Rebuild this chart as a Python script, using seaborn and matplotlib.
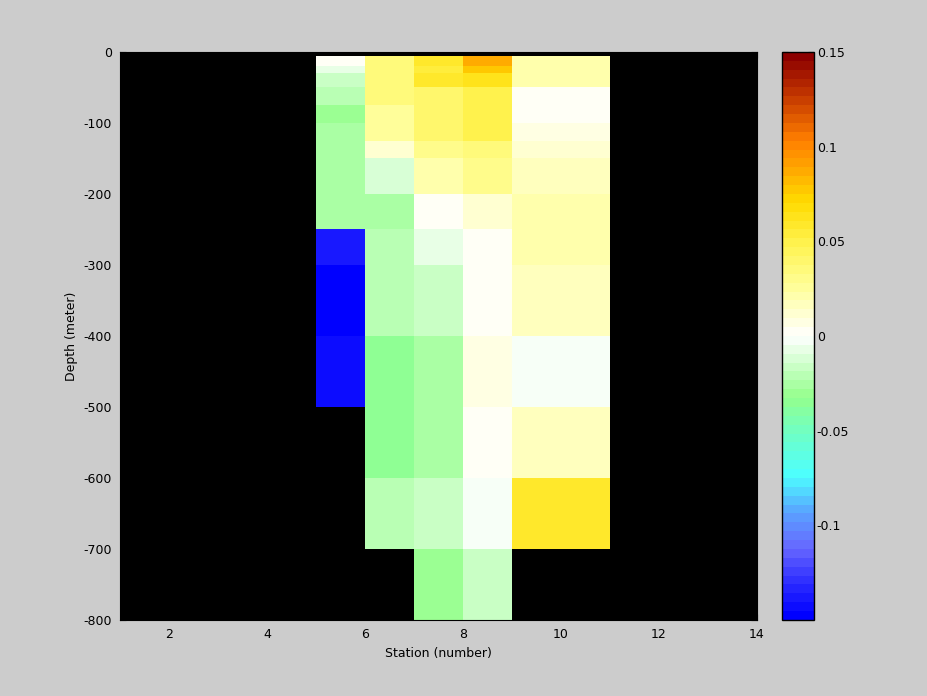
import numpy as np
import pandas as pd
import matplotlib
matplotlib.use("Agg")
import matplotlib.pyplot as plt
import seaborn as sns
from matplotlib.colors import LinearSegmentedColormap

# depth levels (m, positive down) bounding each row of cells
depth_edges = [5, 20, 30, 50, 75, 100, 125, 150, 200, 250, 300, 400, 500, 600, 700, 800]
# station numbers bounding each column of cells
station_edges = [5, 6, 7, 8, 9, 11]

# anomaly values per cell: one list per column, top to bottom (nan = no data)
nan = np.nan
col_5_6 = [0.003, -0.007, -0.017, -0.020, -0.032, -0.028, -0.028, -0.025,
           -0.028, -0.140, -0.150, -0.145, nan, nan, nan]
col_6_7 = [0.036, 0.034, 0.036, 0.033, 0.026, 0.026, 0.010, -0.012,
           -0.024, -0.020, -0.020, -0.035, -0.034, -0.020, nan]
col_7_8 = [0.058, 0.054, 0.058, 0.042, 0.042, 0.042, 0.030, 0.020,
           0.003, -0.007, -0.016, -0.024, -0.024, -0.016, -0.030]
col_8_9 = [0.085, 0.078, 0.062, 0.047, 0.047, 0.047, 0.036, 0.030,
           0.010, 0.003, 0.003, 0.007, 0.002, -0.003, -0.016]
col_9_11 = [0.020, 0.020, 0.020, 0.002, 0.002, 0.005, 0.010, 0.016,
            0.020, 0.020, 0.016, -0.003, 0.018, 0.058, nan]
columns = [col_5_6, col_6_7, col_7_8, col_8_9, col_9_11]

station_min, station_max = 1, 14
depth_max = 800
step = 5  # metres per heatmap row

# spread the cells onto a regular grid so seaborn's heatmap can draw them
n_rows = depth_max // step
n_cols = station_max - station_min
grid = np.full((n_rows, n_cols), np.nan)
for j, col in enumerate(columns):
    c0 = station_edges[j] - station_min
    c1 = station_edges[j + 1] - station_min
    for i, v in enumerate(col):
        r0 = depth_edges[i] // step
        r1 = depth_edges[i + 1] // step
        grid[r0:r1, c0:c1] = v
df = pd.DataFrame(grid)

# matlab-like blue / green / white / yellow / red map, 64 steps
anchors = [
    (-0.150, (0.0, 0.0, 1.0)),
    (-0.130, (0.2, 0.2, 1.0)),
    (-0.114, (0.4, 0.4, 1.0)),
    (-0.094, (0.35, 0.65, 1.0)),
    (-0.075, (0.3, 1.0, 1.0)),
    (-0.050, (0.45, 1.0, 0.75)),
    (-0.033, (0.58, 1.0, 0.55)),
    (0.000, (1.0, 1.0, 1.0)),
    (0.025, (1.0, 1.0, 0.62)),
    (0.050, (1.0, 0.95, 0.3)),
    (0.072, (1.0, 0.86, 0.0)),
    (0.090, (1.0, 0.65, 0.0)),
    (0.105, (1.0, 0.5, 0.0)),
    (0.130, (0.75, 0.2, 0.0)),
    (0.150, (0.55, 0.0, 0.0)),
]
vmin, vmax = -0.15, 0.15
cmap = LinearSegmentedColormap.from_list(
    "anom", [((v - vmin) / (vmax - vmin), c) for v, c in anchors]).resampled(64)

sns.set_style("white")
plt.rcParams["font.family"] = ["DejaVu Sans"]
plt.rcParams.update({"text.color": "black", "axes.labelcolor": "black",
                     "xtick.color": "black", "ytick.color": "black"})

grey = (0.8, 0.8, 0.8)
fig = plt.figure(figsize=(9.28, 6.96), dpi=100, facecolor=grey)
ax = fig.add_axes([0.1293, 0.1092, 0.6864, 0.8161])
cax = fig.add_axes([0.8427, 0.1092, 0.0345, 0.8161])
ax.set_facecolor("black")

sns.heatmap(df, ax=ax, cbar_ax=cax, cmap=cmap, vmin=vmin, vmax=vmax,
            xticklabels=False, yticklabels=False)

# axis ticks in data units
xt = np.arange(2, 15, 2)
ax.set_xticks(xt - station_min)
ax.set_xticklabels([str(x) for x in xt], fontsize=9)
yt = np.arange(0, 801, 100)
ax.set_yticks(yt / step)
ax.set_yticklabels(["0"] + [str(-y) for y in yt[1:]], fontsize=9, rotation=0)
ax.set_xlim(0, n_cols)
ax.set_ylim(n_rows, 0)
ax.tick_params(direction="in", length=4, color="black", top=True, right=True,
               bottom=True, left=True, pad=6)
for s in ax.spines.values():
    s.set_visible(True)
    s.set_color("black")
ax.set_xlabel("Station (number)", fontsize=9, labelpad=4)
ax.set_ylabel("Depth (meter)", fontsize=9, labelpad=4)

cb = ax.collections[0].colorbar
cb.outline.set_linewidth(1)
cb.outline.set_edgecolor("black")
cb.set_ticks([-0.1, -0.05, 0, 0.05, 0.1, 0.15])
cb.set_ticklabels(["-0.1", "-0.05", "0", "0.05", "0.1", "0.15"])
cax.tick_params(direction="in", length=4, left=True, right=True, labelsize=9,
                color="black", pad=2)

fig.savefig("out.png", dpi=100, facecolor=grey)
